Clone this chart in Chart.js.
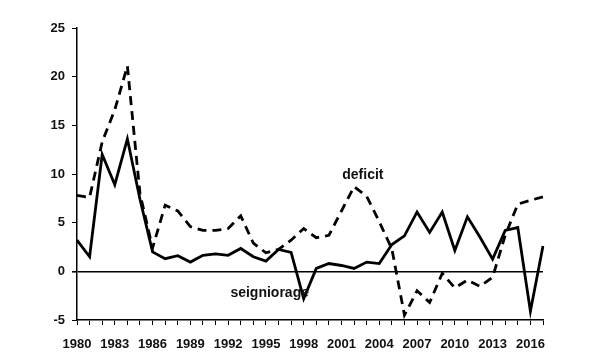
<!DOCTYPE html>
<html>
<head>
<meta charset="utf-8">
<script src="https://cdn.jsdelivr.net/npm/chart.js@4/dist/chart.umd.min.js"></script>
<style>
html,body{margin:0;padding:0;background:#fff;}
#wrap{width:600px;height:360px;position:relative;}
</style>
</head>
<body>
<div id="wrap"><canvas id="c" width="600" height="360"></canvas></div>
<script>
const years = [];
for (let y = 1980; y <= 2017; y++) years.push(String(y));

const seigniorage = [3.2, 1.5, 12.0, 8.9, 13.6, 7.4, 2.0, 1.3, 1.6, 0.95,
  1.65, 1.8, 1.65, 2.35, 1.5, 1.05, 2.25, 1.95, -2.8, 0.3,
  0.8, 0.6, 0.3, 0.95, 0.8, 2.75, 3.65, 6.1, 4.0, 6.1,
  2.15, 5.6, 3.5, 1.25, 4.2, 4.5, -4.1, 2.6];

const deficit = [7.8, 7.6, 13.3, 16.6, 21.1, 8.0, 2.4, 6.8, 6.2, 4.6,
  4.2, 4.2, 4.4, 5.7, 2.9, 1.9, 2.25, 3.2, 4.4, 3.45,
  3.7, 6.2, 8.7, 7.7, 5.1, 2.3, -4.5, -2.0, -3.2, -0.2,
  -1.7, -0.9, -1.55, -0.6, 3.7, 6.9, 7.3, 7.65];

const yTicks = [-5, 0, 5, 10, 15, 20, 25];

const notes = [
  {text: 'deficit', x: '2003', dx: -0.3, y: 9.9},
  {text: 'seigniorage', x: '1995', dx: 0.3, y: -2.25}
];

const FONT = '"Liberation Sans", Arial, sans-serif';

const notePlugin = {
  id: 'notes',
  afterDatasetsDraw(chart) {
    const ctx = chart.ctx;
    const xs = chart.scales.x, ys = chart.scales.y;
    ctx.save();
    ctx.font = 'bold 14px ' + FONT;
    ctx.fillStyle = '#111';
    ctx.textAlign = 'center';
    ctx.textBaseline = 'middle';
    notes.forEach(n => {
      const i = years.indexOf(n.x);
      const px = xs.getPixelForValue(i + n.dx);
      const py = ys.getPixelForValue(n.y);
      ctx.fillText(n.text, px, py);
    });
    ctx.restore();
  }
};

new Chart(document.getElementById('c'), {
  type: 'line',
  data: {
    labels: years,
    datasets: [
      {label: 'seigniorage', data: seigniorage, borderColor: '#000', borderWidth: 2.8,
       pointRadius: 0, tension: 0, fill: false},
      {label: 'deficit', data: deficit, borderColor: '#000', borderWidth: 2.8,
       borderDash: [9, 6], pointRadius: 0, tension: 0, fill: false}
    ]
  },
  options: {
    responsive: false,
    animation: false,
    devicePixelRatio: 1,
    layout: {padding: {top: 28, right: 57, left: 0, bottom: 0}},
    plugins: {legend: {display: false}, tooltip: {enabled: false}},
    scales: {
      x: {
        offset: false,
        afterFit(s) { s.height = 40; },
        grid: {display: true, drawOnChartArea: false, drawTicks: true, tickLength: 5,
               color: '#000', lineWidth: 1},
        border: {display: true, color: '#000', width: 1.5},
        ticks: {
          autoSkip: false, maxRotation: 0, minRotation: 0, padding: 12,
          color: '#111', font: {family: FONT, size: 13, weight: 'bold'},
          callback(v, i) { return (i % 3 === 0) ? years[i] : ''; }
        }
      },
      y: {
        min: -5, max: 25,
        afterFit(s) { s.width = 77; },
        afterBuildTicks(s) { s.ticks = yTicks.map(v => ({value: v})); },
        grid: {
          display: true, drawOnChartArea: true, drawTicks: true, tickLength: 5,
          tickColor: '#000',
          color: c => (c.tick && c.tick.value === 0) ? '#000' : 'rgba(0,0,0,0)',
          lineWidth: c => (c.tick && c.tick.value === 0) ? 1.6 : 1
        },
        border: {display: true, color: '#000', width: 1.5},
        ticks: {
          padding: 7, color: '#111', font: {family: FONT, size: 13, weight: 'bold'},
          callback: v => String(v)
        }
      }
    }
  },
  plugins: [notePlugin]
});
</script>
</body>
</html>
